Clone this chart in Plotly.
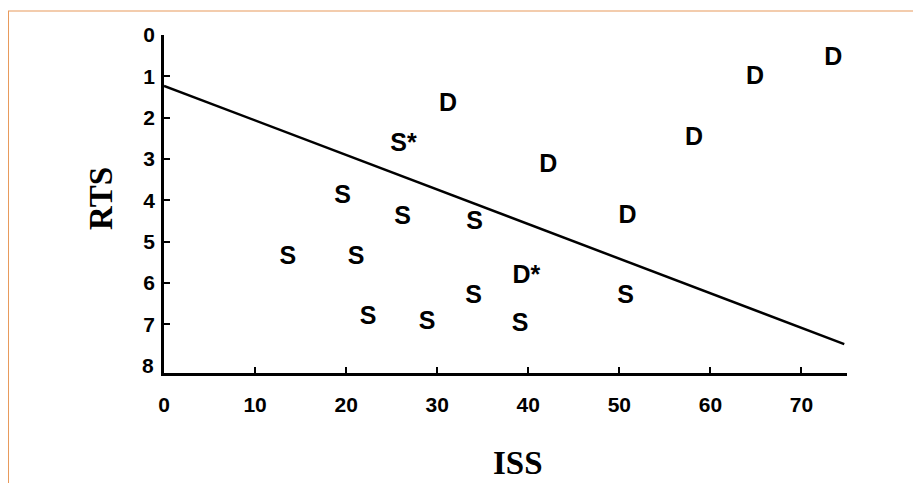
import plotly.graph_objects as go

# ---- data ----
iss = [31.2, 26.3, 42.2, 58.2, 64.9, 73.5, 19.6, 26.2, 34.1, 50.9,
       13.6, 21.1, 39.8, 34.0, 50.7, 22.4, 28.9, 39.1]
rts = [1.69, 2.66, 3.17, 2.52, 1.04, 0.58, 3.92, 4.43, 4.55, 4.41,
       5.38, 5.38, 5.86, 6.34, 6.34, 6.85, 6.97, 7.02]
outcome = ["D", "S*", "D", "D", "D", "D", "S", "S", "S", "D",
           "S", "S", "D*", "S", "S", "S", "S", "S"]

line_iss = [0, 74.7]
line_rts = [1.23, 7.48]

x_ticks = [0, 10, 20, 30, 40, 50, 60, 70, 75]
x_ticktext = ["0", "10", "20", "30", "40", "50", "60", "70", ""]
y_ticks = [0, 1, 2, 3, 4, 5, 6, 7]
y_ticktext = ["0", "1", "2", "3", "4", "5", "6", "7"]

TICKFONT = dict(family="Liberation Sans, Arial, sans-serif", size=21,
                color="black", weight="bold")
TITLEFONT = dict(family="Liberation Serif, Times New Roman, serif", size=33,
                 color="black", weight="bold")

fig = go.Figure()
fig.add_trace(go.Scatter(x=line_iss, y=line_rts, mode="lines",
                         line=dict(color="black", width=2.5),
                         hoverinfo="skip", showlegend=False))
fig.add_trace(go.Scatter(x=iss, y=rts, mode="text", text=outcome,
                         textposition="middle center",
                         textfont=dict(family="Liberation Sans, Arial, sans-serif",
                                       size=25, color="black", weight="bold"),
                         showlegend=False))

fig.update_xaxes(range=[0, 75], tickvals=x_ticks, ticktext=x_ticktext,
                 showline=True, linecolor="black", linewidth=2.5,
                 ticks="inside", ticklen=6, tickwidth=2, tickcolor="black",
                 showgrid=False, zeroline=False, tickfont=TICKFONT,
                 ticklabelstandoff=11)
fig.update_yaxes(range=[8.18, 0], tickvals=y_ticks, ticktext=y_ticktext,
                 showline=True, linecolor="black", linewidth=2.5,
                 ticks="inside", ticklen=6, tickwidth=2, tickcolor="black",
                 showgrid=False, zeroline=False, tickfont=TICKFONT,
                 ticklabelstandoff=2)

annotations = [
    dict(text="8", x=0, xref="paper", y=8, yref="y", xanchor="right",
         yanchor="middle", xshift=-8, showarrow=False, font=TICKFONT),
    dict(text="ISS", x=0.519, xref="paper", y=-0.266, yref="paper",
         xanchor="center", yanchor="middle", showarrow=False, font=TITLEFONT),
    dict(text="RTS", x=-0.0923, xref="paper", y=0.518, yref="paper",
         xanchor="center", yanchor="middle", textangle=-90, showarrow=False,
         font=TITLEFONT),
]

# page body has an 8px margin; plot area spans page px x 164..847, y 35..373
shapes = [
    dict(type="line", xref="paper", yref="paper", x0=-0.23, x1=1.12,
         y0=1.071, y1=1.071, line=dict(color="#e89a5c", width=1.2)),
    dict(type="line", xref="paper", yref="paper", x0=-0.2278, x1=-0.2278,
         y0=1.071, y1=-0.34, line=dict(color="#e89a5c", width=1.2)),
]

fig.update_layout(width=913, height=475, autosize=False,
                  margin=dict(l=156, r=74, t=27, b=110),
                  paper_bgcolor="white", plot_bgcolor="white",
                  annotations=annotations, shapes=shapes)

fig.write_html("out.html")
